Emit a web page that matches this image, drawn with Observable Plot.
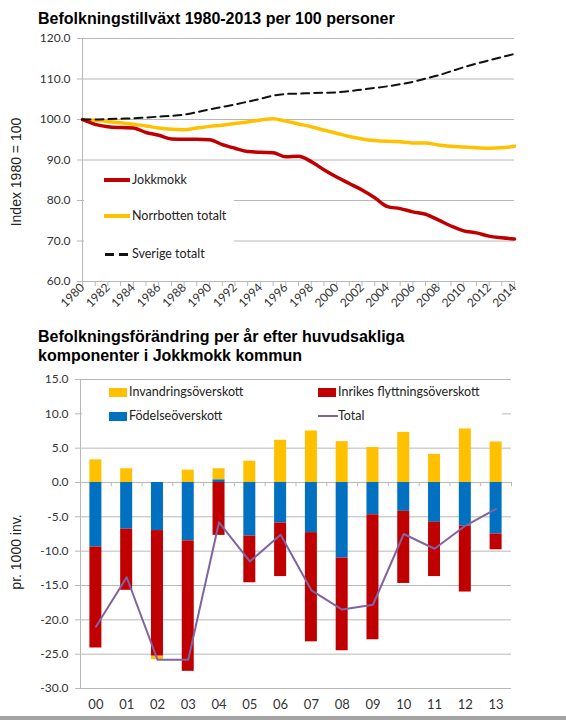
<!DOCTYPE html>
<html><head><meta charset="utf-8">
<script src="https://cdn.jsdelivr.net/npm/d3@7"></script>
<script src="https://cdn.jsdelivr.net/npm/@observablehq/plot@0.6"></script>
<style>
body{margin:0;background:#fff;}
#page{position:relative;width:566px;height:720px;overflow:hidden;background:#fff;}
.title{position:absolute;left:38px;font:bold 16px "Liberation Sans", Arial, sans-serif;color:#000;line-height:19px;white-space:nowrap;}
.ylab{position:absolute;font:14px "Liberation Sans", Arial, sans-serif;color:#222;white-space:nowrap;transform:translate(-50%,-50%) rotate(-90deg);}
.chart{position:absolute;left:0;}
.legend{position:absolute;background:#fff;}
.item{position:absolute;font:12.5px Lato, sans-serif;color:#222;white-space:nowrap;line-height:14px;transform:translateY(-50%);}
.key{position:absolute;}
</style></head>
<body><div id="page"></div>
<script>
// ---------- Data: top chart ----------
const years = [1980,1981,1982,1983,1984,1985,1986,1987,1988,1989,1990,1991,1992,1993,1994,1995,1996,1997,1998,1999,2000,2001,2002,2003,2004,2005,2006,2007,2008,2009,2010,2011,2012,2013,2014];
const labelYears = [1980,1982,1984,1986,1988,1990,1992,1994,1996,1998,2000,2002,2004,2006,2008,2010,2012,2014];
const jokkmokk = [100,98.8,98.2,98.0,97.9,96.8,96.1,95.2,95.1,95.1,95.0,93.8,92.9,92.1,91.9,91.8,90.8,90.9,89.6,87.6,85.8,84.2,82.6,80.7,78.5,78.0,77.2,76.6,75.2,73.7,72.5,72.0,71.2,70.8,70.5];
const norrbotten = [100,99.8,99.5,99.2,98.8,98.4,97.9,97.6,97.5,97.9,98.3,98.6,99.0,99.4,99.9,100.2,99.6,98.9,98.2,97.4,96.6,95.8,95.2,94.8,94.6,94.5,94.2,94.2,93.7,93.4,93.2,93.0,92.9,93.0,93.4];
const sverige = [100,100.0,100.1,100.2,100.3,100.5,100.7,100.9,101.2,101.8,102.5,103.1,103.7,104.4,105.1,105.9,106.3,106.4,106.5,106.6,106.7,107.0,107.4,107.8,108.2,108.7,109.3,110.1,110.9,111.9,112.9,113.8,114.6,115.4,116.2];
const yTicksTop = [60,70,80,90,100,110,120];
const topSeriesNames = ["Jokkmokk","Norrbotten totalt","Sverige totalt"];

// ---------- Data: bottom chart ----------
const cats = ["00","01","02","03","04","05","06","07","08","09","10","11","12","13"];
const invandring = [3.3,2.0,-0.5,1.8,1.6,3.1,6.15,7.5,5.95,5.1,7.3,4.1,7.8,5.9];
const inrikes = [-14.7,-8.9,-18.3,-19.0,-7.7,-6.8,-7.8,-15.9,-13.5,-18.2,-10.5,-7.9,-9.6,-2.3];
const fodelse = [-9.4,-6.8,-7.0,-8.5,0.4,-7.8,-5.9,-7.3,-11.0,-4.7,-4.2,-5.8,-6.35,-7.5];
const total = [-21.0,-13.8,-25.8,-25.8,-5.8,-11.5,-7.6,-15.7,-18.5,-17.8,-7.5,-9.65,-6.3,-3.85];
const yTicksBottom = [-30,-25,-20,-15,-10,-5,0,5,10,15];
const barNames = ["Födelseöverskott","Inrikes flyttningsöverskott","Invandringsöverskott"];
const totalName = "Total";

(function(){
// ---------- Styles ----------
const colRed = "#C00000", colYellow = "#FFC000", colBlue = "#0070C0", colPurple = "#8064A2", colGrid = "#b8b8b8";

const page = document.getElementById("page");
function add(html){ const d=document.createElement("div"); d.innerHTML=html; const el=d.firstElementChild; page.appendChild(el); return el; }

// Titles
add(`<div class="title" style="top:9px">Befolkningstillväxt 1980-2013 per 100 personer</div>`);
add(`<div class="title" style="top:327px">Befolkningsförändring per år efter huvudsakliga<br>komponenter i Jokkmokk kommun</div>`);

// ---------- Top chart ----------
const topValues = [jokkmokk, norrbotten, sverige];
const topData = topSeriesNames.flatMap((s,k)=>years.map((yr,i)=>({series:s, year:yr, value:topValues[k][i]})));
const ofSeries = n => topData.filter(d=>d.series===n);

const topChart = Plot.plot({
  width:566, height:300, marginTop:10, marginBottom:47, marginLeft:82, marginRight:52,
  style:{fontFamily:"Lato, sans-serif", fontSize:"12px", color:"#333", background:"transparent"},
  x:{type:"linear", domain:[1980,2014]},
  y:{domain:[60,120]},
  marks:[
    Plot.gridY(yTicksTop.filter(v=>v>60), {stroke:colGrid, strokeOpacity:1}),
    Plot.ruleY([60], {stroke:colGrid}),
    Plot.ruleX([1980], {stroke:colGrid}),
    Plot.axisY(yTicksTop, {tickFormat:d=>d.toFixed(1), tickSize:5, tickPadding:7, stroke:colGrid, label:null, fontSize:12}),
    Plot.axisX(years, {tickFormat:()=>"", tickSize:5, stroke:colGrid, label:null}),
    Plot.axisX(labelYears, {tickFormat:d=>String(d), tickSize:0, tickRotate:-45, tickPadding:4, label:null, fontSize:12}),
    Plot.line(ofSeries(topSeriesNames[1]), {x:"year", y:"value", stroke:colYellow, strokeWidth:3.5, curve:"monotone-x"}),
    Plot.line(ofSeries(topSeriesNames[0]), {x:"year", y:"value", stroke:colRed, strokeWidth:3.5, curve:"monotone-x"}),
    Plot.line(ofSeries(topSeriesNames[2]), {x:"year", y:"value", stroke:"#111", strokeWidth:2, strokeDasharray:"8,5", curve:"monotone-x"})
  ]
});
topChart.classList.add("chart"); topChart.style.top="28px"; page.appendChild(topChart);

add(`<div class="ylab" style="left:16px;top:172px">Index 1980 = 100</div>`);

// Top legend
add(`<div class="legend" style="left:84px;top:166px;width:150px;height:98px"></div>`);
const topKeys = [
  {y:180, color:colRed, dash:false},
  {y:216, color:colYellow, dash:false},
  {y:254, color:"#111", dash:true}
];
topSeriesNames.forEach((n,i)=>{
  const k = topKeys[i];
  if(k.dash){
    add(`<div class="key" style="left:105px;top:${k.y-1}px;width:9px;height:2.5px;background:${k.color}"></div>`);
    add(`<div class="key" style="left:119px;top:${k.y-1}px;width:9px;height:2.5px;background:${k.color}"></div>`);
  } else {
    add(`<div class="key" style="left:104px;top:${k.y-2}px;width:26px;height:4px;background:${k.color}"></div>`);
  }
  add(`<div class="item" style="left:132px;top:${k.y}px">${n}</div>`);
});

// ---------- Bottom chart ----------
const barValues = [fodelse, inrikes, invandring];
const barColors = [colBlue, colRed, colYellow];
const barData = barNames.flatMap((s,k)=>cats.map((c,i)=>({series:s, cat:c, value:barValues[k][i]})));
const totalData = cats.map((c,i)=>({cat:c, value:total[i]}));

const bW = 566 - 80 - 55;           // plot width
const step = bW / cats.length;       // band step
const inset = (step - 12) / 2;       // bar width about 12px

const bottomChart = Plot.plot({
  width:566, height:350, marginTop:9, marginBottom:32, marginLeft:80, marginRight:55,
  style:{fontFamily:"Lato, sans-serif", fontSize:"12px", color:"#333", background:"transparent"},
  x:{type:"band", domain:cats, padding:0, round:false},
  y:{domain:[-30,15]},
  color:{domain:barNames, range:barColors},
  marks:[
    Plot.gridY(yTicksBottom, {stroke:colGrid, strokeOpacity:1}),
    Plot.frame({anchor:"left", stroke:colGrid}),
    Plot.axisY(yTicksBottom, {tickFormat:d=>d.toFixed(1), tickSize:5, tickPadding:7, stroke:colGrid, label:null, fontSize:12}),
    Plot.axisX({tickSize:0, tickPadding:11, label:null, fontSize:13}),
    Plot.ruleX(cats, {x:d=>d, y1:0, y2:-0.6, dx:step/2, stroke:colGrid}),
    Plot.barY(barData, Plot.stackY({x:"cat", y:"value", fill:"series", order:barNames, insetLeft:inset, insetRight:inset})),
    Plot.line(totalData, {x:"cat", y:"value", stroke:colPurple, strokeWidth:2})
  ]
});
bottomChart.classList.add("chart"); bottomChart.style.top="370px"; page.appendChild(bottomChart);

add(`<div class="ylab" style="left:16px;top:552px">pr. 1000 inv.</div>`);

// Bottom legend
add(`<div class="legend" style="left:82px;top:384px;width:420px;height:42px"></div>`);
const botKeys = [
  {name:barNames[2], color:colYellow, x:109, y:392, type:"box"},
  {name:barNames[1], color:colRed, x:318, y:392, type:"box"},
  {name:barNames[0], color:colBlue, x:109, y:416, type:"box"},
  {name:totalName, color:colPurple, x:318, y:416, type:"line"}
];
botKeys.forEach(k=>{
  if(k.type==="box") add(`<div class="key" style="left:${k.x}px;top:${k.y-4.5}px;width:18px;height:9px;background:${k.color}"></div>`);
  else add(`<div class="key" style="left:${k.x}px;top:${k.y-1.25}px;width:20px;height:2.5px;background:${k.color}"></div>`);
  add(`<div class="item" style="left:${k.x+20}px;top:${k.y}px">${k.name}</div>`);
});

// bottom border band
add(`<div style="position:absolute;left:0;top:716px;width:566px;height:4px;background:#a3a3a3"></div>`);
})();
</script>
</body></html>
